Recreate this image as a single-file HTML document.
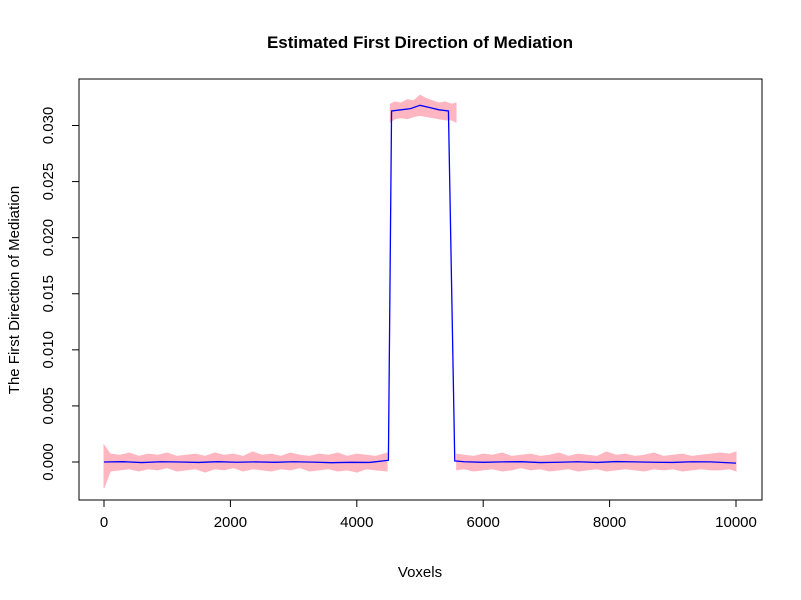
<!DOCTYPE html>
<html><head><meta charset="utf-8"><style>
body{margin:0;background:#fff;}
svg{display:block;font-family:"Liberation Sans",Arial,sans-serif;}
</style></head><body>
<svg id="chart" width="801" height="600" viewBox="0 0 801 600">
<text x="420" y="48" text-anchor="middle" font-size="17" font-weight="bold">Estimated First Direction of Mediation</text>
<rect x="79" y="79" width="683" height="421" fill="none" stroke="#000" stroke-width="1"/>
<text x="420" y="577" text-anchor="middle" font-size="15">Voxels</text>
<text x="0" y="0" transform="translate(19,290) rotate(-90)" text-anchor="middle" font-size="15">The First Direction of Mediation</text>
<g id="band"></g><g id="line"></g><g id="axes"></g>
</svg>
<script>
const xTicks=[0,2000,4000,6000,8000,10000];
const yTicks=[0,0.005,0.010,0.015,0.020,0.025,0.030];
const yTickLabels=["0.000","0.005","0.010","0.015","0.020","0.025","0.030"];
// blue mean curve
const lineX=[0,300,600,900,1200,1500,1800,2100,2400,2700,3000,3300,3600,3900,4200,4500,4550,4700,4850,5000,5150,5300,5450,5550,5700,6000,6300,6600,6900,7200,7500,7800,8100,8400,8700,9000,9300,9600,10000];
const lineY=[0,0.00003,-0.00005,0.00002,0,-0.00004,0.00003,-0.00002,0.00001,-0.00003,0.00002,-0.00001,-0.00006,-0.00003,-0.00004,0.00015,0.0313,0.0314,0.0315,0.0318,0.0316,0.0314,0.0313,0.0001,0.00002,-0.00003,0.00001,0.00003,-0.00005,-0.00002,0.00002,-0.00004,0.00004,0.00001,-0.00002,-0.00004,0.00002,0.00001,-0.0001];
// pink band segment 1 (left baseline)
const band1X=[0,100,250,400,550,700,850,1000,1150,1300,1450,1600,1750,1900,2050,2200,2350,2500,2650,2800,2950,3100,3250,3400,3550,3700,3850,4000,4150,4300,4480];
const band1Hi=[0.0015,0.0007,0.0006,0.0008,0.0005,0.0007,0.0006,0.0008,0.0005,0.0006,0.0007,0.0005,0.0008,0.0006,0.0007,0.0005,0.0009,0.0006,0.0007,0.0005,0.0008,0.0006,0.0005,0.0007,0.0006,0.0008,0.0005,0.0007,0.0006,0.0005,0.0008];
const band1Lo=[-0.0023,-0.0008,-0.0007,-0.0006,-0.0008,-0.0006,-0.0007,-0.0005,-0.0008,-0.0007,-0.0006,-0.0009,-0.0006,-0.0007,-0.0005,-0.0008,-0.0006,-0.0007,-0.0008,-0.0006,-0.0007,-0.0005,-0.0008,-0.0007,-0.0006,-0.0008,-0.0007,-0.0009,-0.0006,-0.0007,-0.0008];
// segment 2 (plateau)
const band2X=[4530,4600,4700,4800,4900,5000,5100,5200,5300,5400,5500,5570];
const band2Hi=[0.0319,0.0321,0.0320,0.0323,0.0322,0.0327,0.0324,0.0322,0.0320,0.0321,0.0319,0.0320];
const band2Lo=[0.0303,0.0306,0.0307,0.0306,0.0308,0.0309,0.0308,0.0307,0.0306,0.0305,0.0305,0.0303];
// segment 3 (right baseline)
const band3X=[5580,5700,5850,6000,6150,6300,6450,6600,6750,6900,7050,7200,7350,7500,7650,7800,7950,8100,8250,8400,8550,8700,8850,9000,9150,9300,9450,9600,9750,9900,10000];
const band3Hi=[0.0007,0.0006,0.0005,0.0007,0.0006,0.0008,0.0005,0.0006,0.0007,0.0005,0.0006,0.0008,0.0005,0.0007,0.0006,0.0005,0.0009,0.0006,0.0007,0.0005,0.0006,0.0008,0.0005,0.0006,0.0007,0.0005,0.0006,0.0007,0.0008,0.0007,0.0009];
const band3Lo=[-0.0007,-0.0006,-0.0008,-0.0007,-0.0006,-0.0008,-0.0007,-0.0005,-0.0007,-0.0006,-0.0008,-0.0007,-0.0006,-0.0008,-0.0007,-0.0006,-0.0008,-0.0007,-0.0006,-0.0007,-0.0008,-0.0006,-0.0007,-0.0006,-0.0008,-0.0007,-0.0006,-0.0007,-0.0007,-0.0006,-0.0008];

const NS="http://www.w3.org/2000/svg";
const xS=v=>104+(v/10000)*632;
const yS=v=>462-(v/0.030)*336.5;
function mk(tag,attrs,parent){const e=document.createElementNS(NS,tag);for(const k in attrs)e.setAttribute(k,attrs[k]);parent.appendChild(e);return e;}

const band=document.getElementById('band');
[[band1X,band1Hi,band1Lo],[band2X,band2Hi,band2Lo],[band3X,band3Hi,band3Lo]].forEach(([X,H,L],si)=>{
  const n=Math.min(X.length,H.length,L.length);
  let pts=[];
  for(let i=0;i<n;i++)pts.push(xS(X[i])+','+yS(H[i]));
  for(let i=n-1;i>=0;i--)pts.push(xS(X[i])+','+yS(L[i]));
  const p=mk('polygon',{points:pts.join(' '),fill:'#ffb6c1',stroke:'#ffb6c1','stroke-width':'1'},band);
  
  
});
const line=document.getElementById('line');
const pl=mk('polyline',{points:lineX.map((x,i)=>xS(x)+','+yS(lineY[i])).join(' '),fill:'none',stroke:'#0000ff','stroke-width':'1.3'},line);



const axes=document.getElementById('axes');
const xa=mk('line',{x1:xS(0),x2:xS(10000),y1:500,y2:500,stroke:'#000'},axes);


xTicks.forEach(t=>{
  const tk=mk('line',{x1:xS(t),x2:xS(t),y1:500,y2:507,stroke:'#000'},axes);
  
  
  const tx=mk('text',{x:xS(t),y:527,'text-anchor':'middle','font-size':'15'},axes);
  tx.textContent=String(t);
  
  
});
yTicks.forEach((t,i)=>{
  const tk=mk('line',{x1:72,x2:79,y1:yS(t),y2:yS(t),stroke:'#000'},axes);
  
  
  const tx=mk('text',{x:0,y:0,transform:`translate(53,${yS(t)}) rotate(-90)`,'text-anchor':'middle','font-size':'15'},axes);
  tx.textContent=yTickLabels[i];
  
  
});
</script>
</body></html>
